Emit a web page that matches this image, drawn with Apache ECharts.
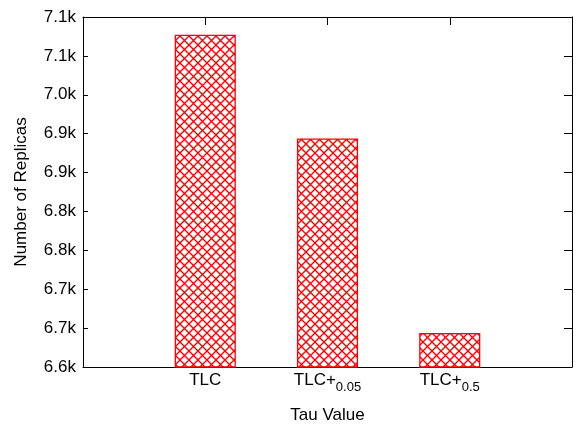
<!DOCTYPE html>
<html>
<head>
<meta charset="utf-8">
<script src="https://cdn.jsdelivr.net/npm/echarts@6/dist/echarts.min.js"></script>
<style>
  html, body { margin: 0; padding: 0; background: #fff; }
  #chart { width: 576px; height: 431px; }
</style>
</head>
<body>
<div id="chart"></div>
<script>
// Category names (base text + subscript) and their x positions
const categoryBase = ['TLC', 'TLC+', 'TLC+'];
const categorySub = ['', '0.05', '0.5'];
const categoryPos = [0, 1, 2];

// Number of replicas per tau setting
const replicas = [7087, 6935, 6650];

// Y tick positions and their printed labels
const yTickValues = [6600, 6657, 6714, 6771, 6828, 6885, 6942, 6999, 7056, 7113];
const yTickLabels = ['6.6k', '6.7k', '6.7k', '6.8k', '6.8k', '6.9k', '6.9k', '7.0k', '7.1k', '7.1k'];

// Red crosshatch fill
function hatchPattern(size, color) {
  const c = document.createElement('canvas');
  c.width = size; c.height = size;
  const g = c.getContext('2d');
  g.fillStyle = '#fff';
  g.fillRect(0, 0, size, size);
  g.strokeStyle = color;
  g.lineWidth = 1.4;
  g.beginPath();
  g.moveTo(0, 0); g.lineTo(size, size);
  g.moveTo(size, 0); g.lineTo(0, size);
  g.stroke();
  return c;
}

function yLabel(v) {
  let best = -1, bestD = Infinity;
  yTickValues.forEach(function (t, i) {
    const d = Math.abs(t - v);
    if (d < bestD) { bestD = d; best = i; }
  });
  return bestD < 1 ? yTickLabels[best] : '';
}

function xLabel(v) {
  const i = categoryPos.indexOf(v);
  if (i < 0) return '';
  return '{m|' + categoryBase[i] + '}' + (categorySub[i] ? '{s|' + categorySub[i] + '}' : '');
}

const FONT = 'Liberation Sans, Arial, Helvetica, sans-serif';
const chart = echarts.init(document.getElementById('chart'), null, { renderer: 'canvas' });

const xMin = -1, xMax = 3, xStep = 1;
const yMin = yTickValues[0];
const yMax = yTickValues[yTickValues.length - 1];
const yStep = yTickValues[1] - yTickValues[0];

const frameLine = { show: true, onZero: false, lineStyle: { color: '#000', width: 1 } };
const tickStyle = { show: true, inside: true, length: 5, lineStyle: { color: '#000', width: 1 } };
// mirrored ticks on the top and right edges of the frame
const mirrorTick = { show: true, inside: true, length: 8, lineStyle: { color: '#000', width: 1 } };

chart.setOption({
  animation: false,
  backgroundColor: '#fff',
  textStyle: { fontFamily: FONT, color: '#000' },
  grid: { left: 83, right: 4, top: 17, bottom: 64, show: false },
  xAxis: [{
    type: 'value', min: xMin, max: xMax, interval: xStep, position: 'bottom',
    name: 'Tau Value', nameLocation: 'middle', nameGap: 40,
    nameTextStyle: { fontSize: 17, color: '#000', fontFamily: FONT },
    axisLine: frameLine,
    splitLine: { show: false },
    axisTick: tickStyle,
    axisLabel: {
      margin: 5, color: '#000', fontFamily: FONT,
      showMinLabel: true, showMaxLabel: true,
      formatter: xLabel,
      rich: {
        m: { fontSize: 17, lineHeight: 17, verticalAlign: 'top', fontFamily: FONT, color: '#000' },
        s: { fontSize: 13, lineHeight: 13, padding: [9, 0, 0, 0], verticalAlign: 'top', fontFamily: FONT, color: '#000' }
      }
    }
  }, {
    type: 'value', min: xMin, max: xMax, interval: xStep, position: 'top',
    axisLine: frameLine, splitLine: { show: false },
    axisTick: mirrorTick,
    axisLabel: { show: false }
  }],
  yAxis: [{
    type: 'value', min: yMin, max: yMax, interval: yStep, position: 'left',
    name: 'Number of Replicas', nameLocation: 'middle', nameGap: 53,
    nameTextStyle: { fontSize: 17, color: '#000', fontFamily: FONT },
    axisLine: frameLine, splitLine: { show: false },
    axisTick: tickStyle,
    axisLabel: {
      margin: 7, fontSize: 17, color: '#000', fontFamily: FONT,
      showMinLabel: true, showMaxLabel: true,
      formatter: yLabel
    }
  }, {
    type: 'value', min: yMin, max: yMax, interval: yStep, position: 'right',
    axisLine: frameLine, splitLine: { show: false },
    axisTick: mirrorTick,
    axisLabel: { show: false }
  }],
  series: [{
    type: 'bar',
    xAxisIndex: 0, yAxisIndex: 0,
    barWidth: '50%',
    clip: true,
    data: replicas.map(function (v, i) { return [categoryPos[i], v]; }),
    itemStyle: {
      color: { image: hatchPattern(9, '#ff0000'), repeat: 'repeat' },
      borderColor: '#ff0000',
      borderWidth: 1.3
    }
  }]
});
</script>
</body>
</html>
